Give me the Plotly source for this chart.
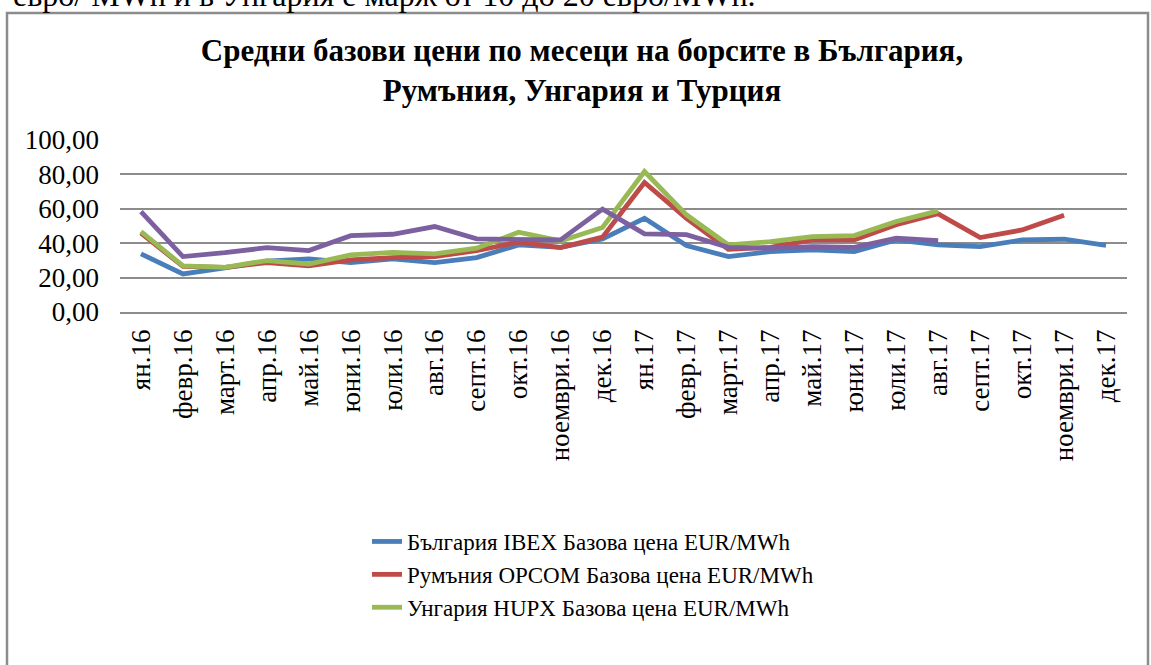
import plotly.graph_objects as go

months = ["ян.16", "февр.16", "март.16", "апр.16", "май.16", "юни.16", "юли.16", "авг.16",
          "септ.16", "окт.16", "ноември.16", "дек.16",
          "ян.17", "февр.17", "март.17", "апр.17", "май.17", "юни.17", "юли.17", "авг.17",
          "септ.17", "окт.17", "ноември.17", "дек.17"]

bulgaria_ibex = [33.8, 22.1, 25.6, 29.5, 30.9, 28.7, 30.9, 28.7, 31.6, 39.0, 37.6, 42.5,
                 54.5, 38.6, 32.2, 35.1, 36.1, 35.1, 41.9, 39.0, 38.0, 41.9, 42.3, 38.8]
romania_opcom = [45.8, 26.5, 26.0, 28.7, 26.8, 30.3, 31.6, 32.2, 35.7, 40.6, 37.4, 43.5,
                 75.3, 54.5, 36.5, 37.6, 41.9, 41.9, 50.7, 57.1, 43.3, 47.7, 56.3, None]
hungary_hupx = [46.8, 26.8, 26.0, 29.9, 27.9, 33.2, 34.7, 33.8, 37.1, 46.4, 41.3, 49.1,
                81.7, 56.5, 39.0, 40.9, 43.8, 44.4, 52.6, 58.8, None, None, None, None]
turkey = [58.4, 32.2, 34.5, 37.4, 35.7, 44.4, 45.2, 49.7, 42.5, 41.9, 41.9, 59.8,
          45.4, 45.0, 37.6, 37.1, 38.0, 37.6, 42.9, 41.5, None, None, None, None]

series_names = ["България IBEX Базова цена EUR/MWh",
                "Румъния OPCOM Базова цена EUR/MWh",
                "Унгария HUPX Базова цена EUR/MWh",
                "Турция Базова цена EUR/MWh"]
colors = ["#4A7EBB", "#BE4B48", "#98B954", "#7D60A0"]
y_ticks = [0, 20, 40, 60, 80, 100]

title_text = "Средни базови цени по месеци на борсите в България,<br>Румъния, Унгария и Турция"
doc_text = "евро/ MWh и в Унгария е марж от 10 до 20 евро/MWh."

FONT = "Liberation Serif"
W, H = 1151, 665
ML, MR, MT, MB = 120, 24, 140, 353
PW, PH = W - ML - MR, H - MT - MB

fig = go.Figure()
for vals, name, col, show in zip([bulgaria_ibex, romania_opcom, hungary_hupx, turkey],
                                 series_names, colors, [True, True, True, False]):
    fig.add_trace(go.Scatter(x=months, y=vals, mode="lines", name=name,
                             line=dict(color=col, width=4.8),
                             connectgaps=False, showlegend=show))

def px_x(p):
    return (p - ML) / PW

def px_y(p):
    return (H - MB - p) / PH

fig.update_layout(
    width=W, height=H,
    margin=dict(l=ML, r=MR, t=MT, b=MB, autoexpand=False),
    paper_bgcolor="white", plot_bgcolor="white",
    separators=", ",
    font=dict(family=FONT, size=25, color="black"),
    title=dict(text=title_text, x=582 / W, xanchor="center", y=1 - 61 / H, yanchor="middle",
               xref="container", yref="container",
               font=dict(family=FONT, size=31, color="black", weight="bold")),
    xaxis=dict(type="category", range=[-0.5, len(months) - 0.5], tickangle=-90,
               showgrid=False, showline=True, linecolor="#8c8c8c", linewidth=1.5,
               ticks="", tickfont=dict(family=FONT, size=27, color="black"),
               ticklabelstandoff=5, automargin=False),
    yaxis=dict(range=[0, 100], tickvals=y_ticks, tickformat=".2f",
               showgrid=True, gridcolor="#8c8c8c", gridwidth=1.5,
               zeroline=False, showline=False, ticks="",
               tickfont=dict(family=FONT, size=27, color="black"),
               ticklabelstandoff=20, automargin=False),
    legend=dict(xref="paper", yref="paper", x=px_x(367), xanchor="left",
                y=px_y(520), yanchor="top", orientation="v",
                font=dict(family=FONT, size=23, color="black"),
                bgcolor="rgba(0,0,0,0)", itemwidth=30, tracegroupgap=0),
    shapes=[dict(type="rect", xref="paper", yref="paper",
                 x0=px_x(7), x1=px_x(1148), y0=px_y(700), y1=px_y(13),
                 line=dict(color="#8c8c8c", width=2.5), fillcolor="rgba(0,0,0,0)", layer="below")],
    annotations=[dict(text=doc_text, xref="paper", yref="paper", x=px_x(757), xanchor="right",
                      y=px_y(15), yanchor="bottom", showarrow=False,
                      font=dict(family=FONT, size=32, color="black"))],
)

fig.write_html("out.html", config={"displayModeBar": False},
               post_script="document.body.style.margin='0';")
